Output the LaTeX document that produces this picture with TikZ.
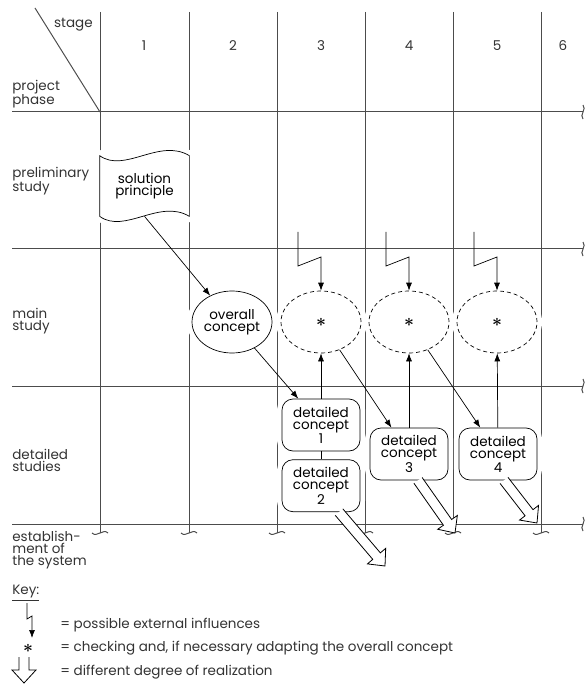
\documentclass[tikz,border=0pt]{standalone}
\usepackage{fontspec}
\setmainfont{Poppins}
\usetikzlibrary{shapes.geometric}
\usetikzlibrary{positioning}
\usetikzlibrary{calc}
\usetikzlibrary{arrows.meta}

\newcommand{\txtsize}{\fontsize{13.5}{12}\selectfont}
\newcommand{\chk}{{\fontsize{16}{16}\selectfont\boldmath$\ast$}}
% hollow arrow between two points
\newcommand{\hollowarrow}[2]{%
	\coordinate (hb) at ($(#2)!13pt!(#1)$);
	\draw[big arrow] ($(#1)!5pt!90:(#2)$) -- ($(hb)!5pt!90:(#2)$) -- ($(hb)!12pt!90:(#2)$) -- (#2)
	-- ($(hb)!12pt!-90:(#2)$) -- ($(hb)!5pt!-90:(#2)$) -- ($(#1)!5pt!-90:(#2)$);}

\begin{document}
\begin{tikzpicture}[x=1pt,y=-1pt,>={Latex[length=8pt,width=6pt]},line width=0.7pt,font=\txtsize,
	grid line/.style={draw=black!70,line width=1pt},
	rowlabel/.style={align=left,anchor=west,inner sep=0pt,text=black!80},
	halo/.style={preaction={draw=white,solid,line width=10pt}},
	concept box/.style={draw,rounded corners=11pt,minimum width=78pt,minimum height=52pt,
		align=center,inner sep=1pt,halo},
	main ellipse/.style={ellipse,draw,minimum width=80pt,minimum height=62pt,align=center,
		inner sep=0pt,halo},
	check node/.style={main ellipse,dashed,dash pattern=on 4pt off 3pt},
	big arrow/.style={draw,fill=white,line width=0.8pt,line join=miter}]
	
	\useasboundingbox (0,0) rectangle (586,684);
	
	% grid
	\foreach \x in {100,189,277,365,453,541} {
		\draw[grid line] (\x,12) -- (\x,533);
		\draw[grid line] (\x-8,533) .. controls (\x-3,538) and (\x+3,528) .. (\x+8,533);
	}
	\foreach \y in {112,249,386,524} {
		\draw[grid line] (12,\y) -- (583,\y);
		\draw[grid line] (583,\y-7) .. controls (587,\y-3) and (579,\y+3) .. (583,\y+7);
	}
	\draw[grid line] (35,8) -- (100,112);
	
	% headings
	\node[anchor=east,inner sep=0pt,text=black!80] (stage) at (93,25) {stage};
	\node[rowlabel] (phase) at (12,94) {project\\phase};
	\foreach \n/\x in {1/144,2/233,3/321,4/409,5/497,6/563}
		\node[text=black!80] (s\n) at (\x,46) {\n};
	\node[rowlabel] (prelim) at (12,181) {preliminary\\study};
	\node[rowlabel] (main) at (12,321) {main\\study};
	\node[rowlabel] (detail) at (12,460) {detailed\\studies};
	\node[rowlabel] (estab) at (12,550) {establish-\\ment of\\the system};
	
	% nodes
	\node[minimum width=89pt,minimum height=60pt,align=center,inner sep=0pt] (sol) at (144.5,186)
		{solution\\principle};
	\draw[halo] (sol.north west) .. controls +(25,18) and +(-30,-18) .. (sol.north east)
		-- (sol.south east) .. controls +(-30,-18) and +(25,18) .. (sol.south west) -- cycle;
	\node[main ellipse] (oc) at (232,322) {overall\\concept};
	\node[check node] (c1) at (321,322) {\chk};
	\node[check node] (c2) at (409,322) {\chk};
	\node[check node] (c3) at (497,322) {\chk};
	\node[concept box] (dc1) at (321,425) {detailed\\concept\\1};
	\node[concept box] (dc2) [below=8pt of dc1] {detailed\\concept\\2};
	\node[concept box] (dc3) at (409,454) {detailed\\concept\\3};
	\node[concept box] (dc4) at (498,454) {detailed\\concept\\4};
	
	% external influences
	\coordinate (e1) at (298,232);
	\coordinate (e2) at (386,232);
	\coordinate (e3) at (474,232);
	\draw[->] (e1) -- ++(0,34) -- ++(23,-9) -- (c1.north);
	\draw[->] (e2) -- ++(0,34) -- ++(23,-9) -- (c2.north);
	\draw[->] (e3) -- ++(0,34) -- ++(23,-9) -- (c3.north);
	
	\path[->]
	(sol.south) edge (oc)
	(oc) edge (dc1)
	(c1) edge (dc3)
	(c2) edge (dc4)
	(dc1) edge (c1)
	(dc3) edge (c2)
	(dc4) edge (c3);
	\draw (dc1) -- (dc2);
	
	% degree of realization
	\coordinate (r2) at (385,566);
	\coordinate (r3) at (455,533);
	\coordinate (r4) at (537,523);
	\hollowarrow{$(dc2.south)+(18,0)$}{r2}
	\hollowarrow{$(dc3.south)+(9,0)$}{r3}
	\hollowarrow{$(dc4.south)+(6,0)$}{r4}
	
	% key
	\node[rowlabel] (key) at (12,593) {\underline{Key:}};
	\coordinate (k1) at (27,603);
	\draw[->] (k1) -- ++(0,16) -- ++(5,-3) -- ++(0,22);
	\node (k2) at (28,648) {\chk};
	\coordinate (k3a) at (24,657);
	\coordinate (k3b) at (24,683);
	\hollowarrow{k3a}{k3b}
	\node[rowlabel] (t1) at (60,625) {= possible external influences};
	\node[rowlabel] (t2) at (60,648) {= checking and, if necessary adapting the overall concept};
	\node[rowlabel] (t3) at (60,672) {= different degree of realization};
\end{tikzpicture}
\end{document}
